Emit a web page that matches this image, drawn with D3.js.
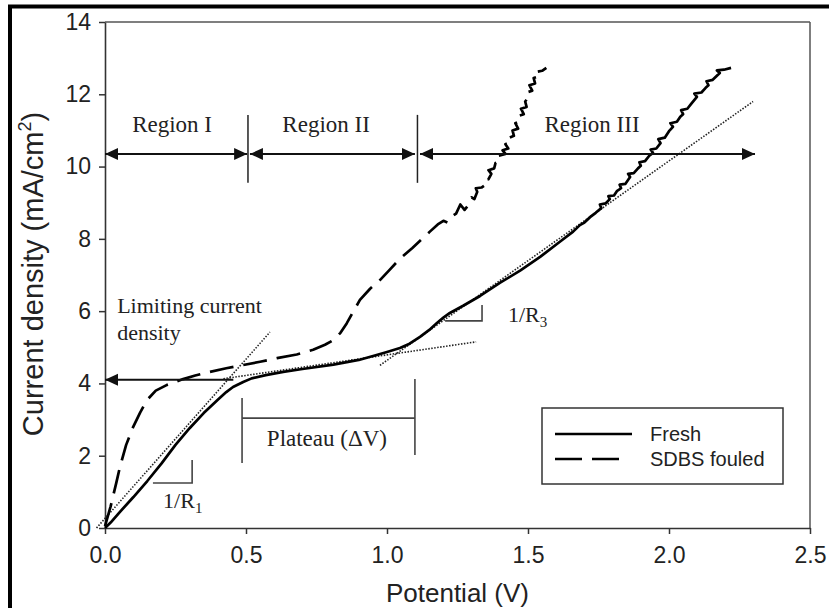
<!DOCTYPE html>
<html>
<head>
<meta charset="utf-8">
<script src="https://cdn.jsdelivr.net/npm/d3@7"></script>
<style>
  body { margin: 0; background: #fff; }
  svg { display: block; }
</style>
</head>
<body>
<svg id="chart" width="829" height="608"></svg>
<script>
// Current density vs potential, fresh vs SDBS fouled membrane

// x tick values (V) and y tick values (mA/cm2)
const xTicks = [0, 0.5, 1.0, 1.5, 2.0, 2.5];
const yTicks = [0, 2, 4, 6, 8, 10, 12, 14];

// series: [potential V, current density mA/cm2]
const fresh = [
  [0, 0], [0.02, 0.15], [0.05, 0.42], [0.1, 0.85], [0.15, 1.3], [0.2, 1.78], [0.25, 2.3],
  [0.3, 2.76], [0.35, 3.18], [0.4, 3.55], [0.43, 3.76], [0.454, 3.9], [0.49, 4.04], [0.52, 4.14],
  [0.57, 4.23], [0.632, 4.32], [0.7, 4.4], [0.81, 4.52], [0.9, 4.65], [0.96, 4.78], [1.0, 4.87],
  [1.046, 4.98], [1.08, 5.1], [1.117, 5.29], [1.15, 5.48], [1.177, 5.67], [1.2, 5.82], [1.223, 5.95],
  [1.27, 6.15], [1.33, 6.42], [1.4, 6.78], [1.472, 7.12], [1.543, 7.5], [1.613, 7.92], [1.66, 8.2],
  [1.684, 8.38], [1.7, 8.45], [1.72, 8.6], [1.74, 8.72], [1.76, 8.85], [1.755, 8.95], [1.775, 8.98],
  [1.79, 9.1], [1.785, 9.18], [1.805, 9.2], [1.815, 9.32], [1.83, 9.4], [1.825, 9.5], [1.845, 9.52],
  [1.862, 9.71], [1.855, 9.8], [1.875, 9.82], [1.89, 9.95], [1.9, 10.02], [1.895, 10.12], [1.915, 10.15],
  [1.93, 10.3], [1.943, 10.38], [1.935, 10.47], [1.955, 10.5], [1.97, 10.65], [1.962, 10.76], [1.985, 10.8],
  [2.0, 10.98], [2.014, 11.1], [2.005, 11.2], [2.028, 11.24], [2.04, 11.38], [2.05, 11.45], [2.043, 11.56],
  [2.065, 11.6], [2.08, 11.75], [2.099, 11.93], [2.09, 12.02], [2.115, 12.05], [2.13, 12.18], [2.14, 12.25],
  [2.133, 12.36], [2.155, 12.4], [2.168, 12.5], [2.18, 12.59], [2.17, 12.66], [2.195, 12.68], [2.22, 12.73]
];

const sdbs = [
  [0, 0.05], [0.02, 0.6], [0.04, 1.25], [0.053, 1.69], [0.075, 2.3], [0.1, 2.8], [0.125, 3.2],
  [0.149, 3.54], [0.18, 3.8], [0.22, 3.96], [0.277, 4.12], [0.32, 4.22], [0.372, 4.32], [0.43, 4.42],
  [0.49, 4.51], [0.55, 4.6], [0.61, 4.7], [0.68, 4.8], [0.738, 4.93], [0.78, 5.07], [0.81, 5.2],
  [0.835, 5.4], [0.857, 5.66], [0.88, 5.98], [0.904, 6.31], [0.94, 6.62], [0.975, 6.86], [1.01, 7.15],
  [1.046, 7.45], [1.09, 7.75], [1.152, 8.2], [1.18, 8.4], [1.2, 8.5], [1.215, 8.45], [1.23, 8.62],
  [1.245, 8.7], [1.26, 8.95], [1.275, 8.8], [1.29, 8.95], [1.3, 9.15], [1.31, 9.1], [1.32, 9.3],
  [1.315, 9.4], [1.335, 9.42], [1.35, 9.5], [1.345, 9.62], [1.36, 9.65], [1.37, 9.8], [1.36, 9.9],
  [1.38, 9.95], [1.385, 10.1], [1.4, 10.15], [1.395, 10.3], [1.42, 10.35], [1.41, 10.45], [1.43, 10.5],
  [1.42, 10.62], [1.44, 10.65], [1.435, 10.8], [1.45, 10.85], [1.445, 11.0], [1.465, 11.05], [1.455, 11.2],
  [1.47, 11.25], [1.465, 11.4], [1.485, 11.45], [1.475, 11.6], [1.495, 11.65], [1.49, 11.8], [1.5, 11.9],
  [1.495, 12.05], [1.515, 12.1], [1.505, 12.25], [1.525, 12.3], [1.52, 12.45], [1.54, 12.5], [1.53, 12.62],
  [1.55, 12.65], [1.565, 12.73]
];

// dotted tangent lines (data coords)
const tangents = [
  [[-0.03, 0], [0.585, 5.42]],
  [[0.42, 4.13], [1.316, 5.15]],
  [[0.975, 4.5], [2.298, 11.8]]
];

// region arrows at y = 10.35
const regionY = 10.35;
const regionArrows = [[0, 0.504], [0.514, 1.099], [1.117, 2.305]];
const regionDividers = [0.507, 1.108];
const regionLabels = [["Region I", 0.238], ["Region II", 0.784], ["Region III", 1.727]];

const svg = d3.select("#chart");
const margin = {left: 105, right: 19, top: 22, bottom: 80};
const W = 829, H = 608;

const x = d3.scaleLinear().domain([0, 2.5]).range([margin.left, W - margin.right]);
const y = d3.scaleLinear().domain([0, 14]).range([H - margin.bottom, margin.top]);

const sans = "'Liberation Sans', Arial, sans-serif";
const serif = "'Liberation Serif', 'Times New Roman', serif";

// outer image border (top and left only)
svg.append("line").attr("x1", 8).attr("x2", W).attr("y1", 6.5).attr("y2", 6.5)
  .attr("stroke", "#000").attr("stroke-width", 4);
svg.append("line").attr("x1", 10).attr("x2", 10).attr("y1", 5).attr("y2", H)
  .attr("stroke", "#000").attr("stroke-width", 4);

const defs = svg.append("defs");
defs.append("marker")
  .attr("id", "arr")
  .attr("viewBox", "0 -7 14 14")
  .attr("refX", 13).attr("refY", 0)
  .attr("markerUnits", "userSpaceOnUse")
  .attr("markerWidth", 14).attr("markerHeight", 14)
  .attr("orient", "auto-start-reverse")
  .append("path").attr("d", "M0,-6L13,0L0,6Z").attr("fill", "#111");

// frame: top + right
svg.append("line").attr("x1", x(0)).attr("x2", x(2.5)).attr("y1", y(14)).attr("y2", y(14))
  .attr("stroke", "#555").attr("stroke-width", 1.5);
svg.append("line").attr("x1", x(2.5)).attr("x2", x(2.5)).attr("y1", y(14)).attr("y2", y(0))
  .attr("stroke", "#555").attr("stroke-width", 1.5);

const gx = svg.append("g")
  .attr("transform", `translate(0,${y(0)})`)
  .call(d3.axisBottom(x).tickValues(xTicks).tickFormat(d3.format(".1f")).tickSize(6).tickSizeOuter(0).tickPadding(13));
const gy = svg.append("g")
  .attr("transform", `translate(${x(0)},0)`)
  .call(d3.axisLeft(y).tickValues(yTicks).tickSize(6).tickSizeOuter(0).tickPadding(8));

[gx, gy].forEach(g => {
  g.select(".domain").attr("stroke", "#333").attr("stroke-width", 1.6);
  g.selectAll(".tick line").attr("stroke", "#333").attr("stroke-width", 1.5);
  g.selectAll(".tick text")
    .style("font-family", sans)
    .style("font-size", "23px")
    .attr("fill", "#222");
});

// axis titles
svg.append("text")
  .attr("x", (x(0) + x(2.5)) / 2).attr("y", 602)
  .attr("text-anchor", "middle")
  .style("font-family", sans)
  .style("font-size", "26px").attr("fill", "#222")
  .text("Potential (V)");

const yTitle = svg.append("text")
  .attr("transform", "translate(43,274) rotate(-90)")
  .attr("text-anchor", "middle")
  .style("font-family", sans)
  .style("font-size", "29px").attr("fill", "#222");
yTitle.append("tspan").text("Current density (mA/cm");
yTitle.append("tspan").attr("dy", -12).style("font-size", "18px").text("2");
yTitle.append("tspan").attr("dy", 12).text(")");

// dotted tangents
const line = d3.line().x(d => x(d[0])).y(d => y(d[1]));
svg.append("g").selectAll("path")
  .data(tangents)
  .join("path")
  .attr("d", line)
  .attr("fill", "none")
  .attr("stroke", "#222")
  .attr("stroke-width", 1.6)
  .attr("stroke-dasharray", "1.5,1.5");

// curves
svg.append("path").datum(fresh)
  .attr("d", line)
  .attr("fill", "none").attr("stroke", "#000").attr("stroke-width", 2.7)
  .attr("stroke-linejoin", "round");
svg.append("path").datum(sdbs)
  .attr("d", line)
  .attr("fill", "none").attr("stroke", "#000").attr("stroke-width", 2.7)
  .attr("stroke-dasharray", "24,10")
  .attr("stroke-linejoin", "round");

// region arrows
const ann = svg.append("g");
ann.selectAll("line.region")
  .data(regionArrows)
  .join("line")
  .attr("class", "region")
  .attr("x1", d => x(d[0])).attr("x2", d => x(d[1]))
  .attr("y1", y(regionY)).attr("y2", y(regionY))
  .attr("stroke", "#111").attr("stroke-width", 2)
  .attr("marker-start", "url(#arr)").attr("marker-end", "url(#arr)");
ann.selectAll("line.divider")
  .data(regionDividers)
  .join("line")
  .attr("class", "divider")
  .attr("x1", d => x(d)).attr("x2", d => x(d))
  .attr("y1", y(11.43)).attr("y2", y(9.55))
  .attr("stroke", "#222").attr("stroke-width", 1.5);

ann.selectAll("text.region")
  .data(regionLabels)
  .join("text")
  .attr("class", "region")
  .attr("x", d => x(d[1])).attr("y", y(10.96))
  .attr("text-anchor", "middle")
  .style("font-family", serif).style("font-size", "23px").attr("fill", "#222")
  .text(d => d[0]);

// limiting current arrow
ann.append("line")
  .attr("x1", x(0.455)).attr("x2", x(0))
  .attr("y1", y(4.1)).attr("y2", y(4.1))
  .attr("stroke", "#111").attr("stroke-width", 2)
  .attr("marker-end", "url(#arr)");
const lim = ann.append("text")
  .style("font-family", serif).style("font-size", "22px").attr("fill", "#222");
lim.append("tspan").attr("x", x(0.043)).attr("y", y(5.95)).text("Limiting current");
lim.append("tspan").attr("x", x(0.043)).attr("y", y(5.2)).text("density");

// plateau bracket
const plateau = [
  [[0.486, 1.8], [0.486, 3.6]],
  [[1.099, 2.02], [1.099, 4.12]],
  [[0.486, 3.04], [1.099, 3.04]]
];
ann.selectAll("path.plateau")
  .data(plateau)
  .join("path")
  .attr("class", "plateau")
  .attr("d", line)
  .attr("stroke", "#444").attr("stroke-width", 1.6).attr("fill", "none");
ann.append("text")
  .attr("x", x(0.787)).attr("y", y(2.27))
  .attr("text-anchor", "middle")
  .style("font-family", serif).style("font-size", "23px").attr("fill", "#222")
  .text("Plateau (\u0394V)");

// slope markers
const slopes = [
  {pts: [[0.17, 1.245], [0.309, 1.245], [0.309, 1.88]], label: "1", lx: 0.206, ly: 0.55},
  {pts: [[1.206, 5.73], [1.337, 5.73], [1.337, 6.17]], label: "3", lx: 1.429, ly: 5.7}
];
ann.selectAll("path.slope")
  .data(slopes)
  .join("path")
  .attr("class", "slope")
  .attr("d", d => line(d.pts))
  .attr("stroke", "#444").attr("stroke-width", 1.6).attr("fill", "none");
slopes.forEach(s => {
  const t = ann.append("text")
    .attr("x", x(s.lx)).attr("y", y(s.ly))
    .style("font-family", serif).style("font-size", "22px").attr("fill", "#222");
  t.append("tspan").text("1/R");
  t.append("tspan").attr("dy", 5).style("font-size", "15px").text(s.label);
});

// legend
const leg = svg.append("g");
leg.append("rect")
  .attr("x", 542).attr("y", 408).attr("width", 241).attr("height", 76)
  .attr("fill", "#fff").attr("stroke", "#333").attr("stroke-width", 1.5);
const legendItems = [
  {name: "Fresh", dash: null, x2: 632, yy: 434},
  {name: "SDBS fouled", dash: "27,10", x2: 620, yy: 459}
];
legendItems.forEach(d => {
  leg.append("line")
    .attr("x1", 555).attr("x2", d.x2).attr("y1", d.yy).attr("y2", d.yy)
    .attr("stroke", "#000").attr("stroke-width", 2.7)
    .attr("stroke-dasharray", d.dash);
  leg.append("text")
    .attr("x", 650).attr("y", d.yy + 7)
    .style("font-family", sans)
    .style("font-size", "20px").attr("fill", "#222")
    .text(d.name);
});
</script>
</body>
</html>
